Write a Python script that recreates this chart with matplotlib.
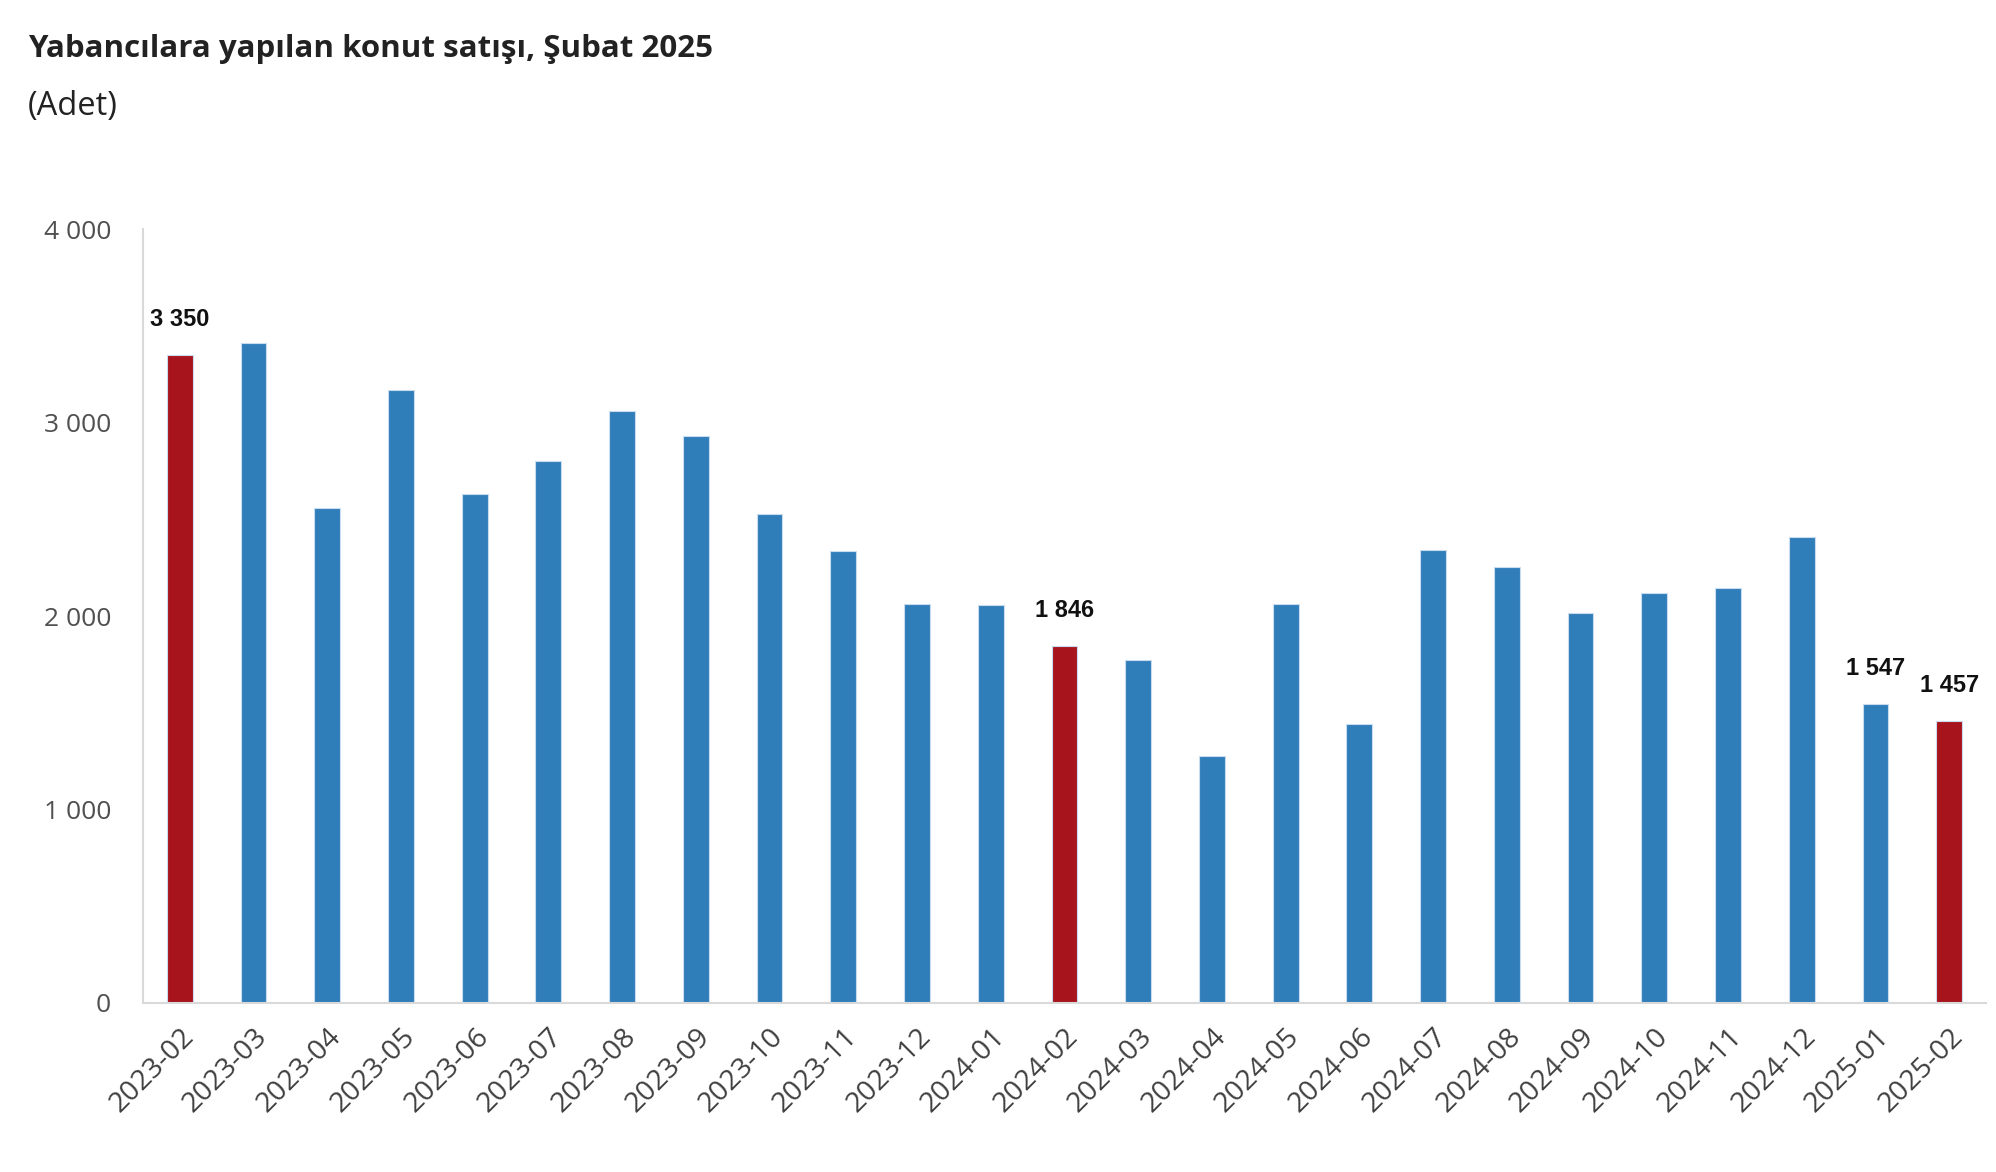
import matplotlib
matplotlib.use("Agg")
import matplotlib.pyplot as plt
import numpy as np

months = ["2023-02", "2023-03", "2023-04", "2023-05", "2023-06", "2023-07", "2023-08",
          "2023-09", "2023-10", "2023-11", "2023-12", "2024-01", "2024-02", "2024-03",
          "2024-04", "2024-05", "2024-06", "2024-07", "2024-08", "2024-09", "2024-10",
          "2024-11", "2024-12", "2025-01", "2025-02"]
sales = [3350, 3413, 2560, 3168, 2630, 2802, 3058, 2932, 2525, 2335, 2061, 2055, 1846,
         1775, 1277, 2061, 1442, 2342, 2251, 2016, 2118, 2146, 2409, 1547, 1457]
highlight = ["2023-02", "2024-02", "2025-02"]
labeled = ["2023-02", "2024-02", "2025-01", "2025-02"]
y_ticks = [0, 1000, 2000, 3000, 4000]

title = "Yabancılara yapılan konut satışı, Şubat 2025"
subtitle = "(Adet)"

BLUE = "#307EB9"
RED = "#A8141C"

def fmt(v):
    return f"{v:,}".replace(",", " ")

fig = plt.figure(figsize=(19.96, 11.72), dpi=100)
ax = fig.add_axes([0.0716, 0.1442, 0.9234, 0.6604])

x = np.arange(len(months))
colors = [RED if m in highlight else BLUE for m in months]
ax.bar(x, sales, width=0.35, color=colors, edgecolor="#c9dcef", linewidth=0.8)

for i, (m, v) in enumerate(zip(months, sales)):
    if m in labeled:
        ax.annotate(fmt(v), (i, v), xytext=(0, 24), textcoords="offset pixels",
                    ha="center", va="bottom", fontsize=17, fontweight="bold",
                    family=["Liberation Sans Narrow", "Liberation Sans"], color="#111111")

ax.set_xlim(-0.5, len(months) - 0.5)
ax.set_ylim(0, 4000)
ax.set_yticks(y_ticks)
ax.set_yticklabels([fmt(t) for t in y_ticks], fontsize=19, color="#505050", family="Open Sans")
ax.set_xticks(x)
ax.set_xticklabels(months, rotation=45, ha="right", rotation_mode="anchor",
                   fontsize=20.5, color="#404040", family="Open Sans")
ax.tick_params(axis="both", length=0)
ax.tick_params(axis="y", pad=23)
ax.tick_params(axis="x", pad=14)
for s in ["top", "right"]:
    ax.spines[s].set_visible(False)
for s in ["left", "bottom"]:
    ax.spines[s].set_color("#d9d9d9")
    ax.spines[s].set_linewidth(1.5)

fig.text(0.014, 0.958, title, fontsize=22.5, fontweight="bold", family="Open Sans",
         color="#222222", va="center", ha="left")
fig.text(0.014, 0.909, subtitle, fontsize=23.5, family="Open Sans",
         color="#222222", va="center", ha="left")

fig.savefig("out.png", dpi=100, facecolor="white")
